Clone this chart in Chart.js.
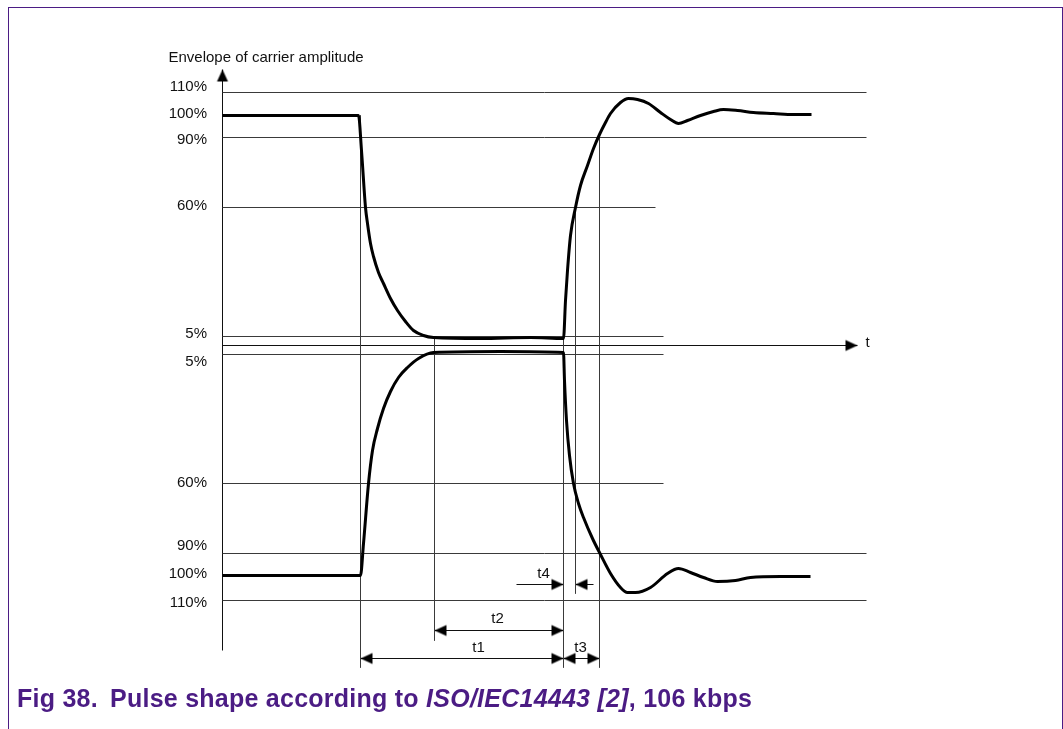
<!DOCTYPE html>
<html>
<head>
<meta charset="utf-8">
<script src="https://cdn.jsdelivr.net/npm/chart.js@4"></script>
<style>
  body { margin: 0; background: #fff; }
  #wrap { position: relative; width: 1063px; height: 729px; overflow: hidden; }
  #frame { position: absolute; left: 8px; top: 7px; width: 1055px; height: 800px; box-sizing: border-box;
           border: 1px solid #4b1c84; border-bottom: none; }
  #chart { position: absolute; left: 0; top: 0; }
  #caption { position: absolute; left: 17px; top: 683px; font: bold 25px Arial, 'Liberation Sans', sans-serif;
             color: #4b1c84; line-height: 30px; white-space: nowrap; letter-spacing: 0.25px; }
  #caption span { display: inline-block; width: 93px; }
</style>
</head>
<body>
<div id="wrap">
  <div id="frame"></div>
  <canvas id="chart" width="1063" height="729"></canvas>
  <div id="caption"><span>Fig 38.</span>Pulse shape according to <i>ISO/IEC14443 [2]</i>, 106 kbps</div>
</div>
<script>
// time in diagram units from the amplitude axis, amplitude in diagram units (0 = time axis)
const upperT = [0, 136, 139, 143, 145, 148, 151, 156, 161, 168, 175, 183, 191, 201, 211, 258, 308, 341,
                343, 345, 348, 353, 358, 365, 371, 377, 383, 388, 398, 406, 415, 426, 438, 448, 456, 465,
                478, 491, 501, 515, 531, 551, 571, 589];
const upperA = [230, 230, 195, 138, 122, 102, 89, 73, 62, 47, 35, 24, 15, 10, 8, 7, 8, 7,
                45, 75, 110, 138, 160, 180, 197, 211, 223, 232, 243, 247, 246, 242, 233, 226, 222, 225,
                230, 234, 236, 235, 233, 232, 231, 231];
const lowerT = [0, 138, 141, 146, 150, 155, 161, 168, 176, 185, 196, 211, 278, 341,
                342, 344, 347, 351, 356, 361, 370, 378, 388, 398, 405, 413, 428, 445, 456, 468,
                481, 495, 513, 528, 558, 588];
const lowerA = [-230, -230, -198, -138, -105, -83, -63, -46, -32, -22, -13, -7, -6, -7,
                -35, -75, -110, -138, -158, -172, -193, -209, -228, -242, -247, -247, -242, -228, -223, -227,
                -232, -236, -235, -232, -231, -231];

// reference levels (horizontal lines) and how far they run
const levelA = [253, 208, 138, 9, -9, -138, -208, -255];
const levelEnd = [644, 644, 433, 441, 441, 441, 644, 644];

// amplitude tick labels
const tickLabels = ['110%', '100%', '90%', '60%', '5%', '5%', '60%', '90%', '100%', '110%'];
const tickA = [259, 232, 206, 140, 12, -16, -137, -200, -228, -257];

// vertical marker lines
const markT = [138, 212, 341, 353, 377];
const markTop = [230, 9, 9, 138, 208];
const markBottom = [-322, -295, -322, -248, -322];

// dimension arrows t1, t2, t3 (double headed)
const dimFrom = [138, 212, 341];
const dimTo = [341, 341, 377];
const dimA = [-313, -285, -313];

// t4 arrows (pointing inwards)
const t4From = [294, 371];
const t4To = [341, 353];
const t4A = -239;

// text notes
const noteText = ['Envelope of carrier amplitude', 't', 't1', 't2', 't3', 't4'];
const noteT = [-54, 643, 256, 275, 358, 321];
const noteA = [288, 3, -302, -273, -302, -228];
const noteAlign = ['left', 'left', 'center', 'center', 'center', 'center'];

function arrowHead() {
    const c = document.createElement('canvas');
    c.width = 28; c.height = 28;
    const g = c.getContext('2d');
    g.fillStyle = '#000';
    g.beginPath();
    g.moveTo(14, 14);
    g.lineTo(2, 8.5);
    g.lineTo(2, 19.5);
    g.closePath();
    g.fill();
    return c;
}
const head = arrowHead();

function seg(xs, ys, extra) {
    return Object.assign({
        data: xs.map((x, i) => ({ x: x, y: ys[i] })),
        borderColor: '#3a3a3a',
        borderWidth: 1,
        pointRadius: 0,
        fill: false,
        clip: false,
        tension: 0
    }, extra || {});
}

const datasets = [];
// envelopes first so they sit on top
datasets.push(seg(upperT, upperA, { borderColor: '#000', borderWidth: 3, cubicInterpolationMode: 'monotone' }));
datasets.push(seg(lowerT, lowerA, { borderColor: '#000', borderWidth: 3, cubicInterpolationMode: 'monotone' }));

levelA.forEach((a, i) => datasets.push(seg([0, levelEnd[i]], [a, a])));
markT.forEach((t, i) => datasets.push(seg([t, t], [markTop[i], markBottom[i]])));

// axes with arrow heads
datasets.push(seg([0, 635], [0, 0], { borderColor: '#111', pointRadius: [0, 5], pointStyle: head, pointRotation: [0, 0] }));
datasets.push(seg([0, 0], [-305, 276], { borderColor: '#111', pointRadius: [0, 5], pointStyle: head, pointRotation: [0, -90] }));

dimFrom.forEach((f, i) => datasets.push(seg([f, dimTo[i]], [dimA[i], dimA[i]],
    { borderColor: '#111', pointRadius: 5, pointStyle: head, pointRotation: [180, 0] })));

datasets.push(seg([t4From[0], t4To[0]], [t4A, t4A], { borderColor: '#111', pointRadius: [0, 5], pointStyle: head, pointRotation: [0, 0] }));
datasets.push(seg([t4From[1], t4To[1]], [t4A, t4A], { borderColor: '#111', pointRadius: [0, 5], pointStyle: head, pointRotation: [0, 180] }));

const notes = {
    id: 'notes',
    afterDraw(chart) {
        const { ctx, scales } = chart;
        ctx.save();
        ctx.font = '15px Arial, "Liberation Sans", sans-serif';
        ctx.fillStyle = '#111';
        ctx.textBaseline = 'middle';
        noteText.forEach((txt, i) => {
            ctx.textAlign = noteAlign[i];
            ctx.fillText(txt, scales.x.getPixelForValue(noteT[i]), scales.y.getPixelForValue(noteA[i]));
        });
        ctx.restore();
    }
};

new Chart(document.getElementById('chart'), {
    type: 'line',
    data: { datasets: datasets },
    plugins: [notes],
    options: {
        responsive: false,
        animation: false,
        events: [],
        layout: { padding: { left: 0, right: 197, top: 50, bottom: 59 } },
        plugins: { legend: { display: false }, tooltip: { enabled: false } },
        scales: {
            x: { type: 'linear', min: -0.5, max: 643.5, display: false },
            y: {
                type: 'linear', min: -324.5, max: 295.5,
                afterFit: s => { s.width = 222; },
                afterBuildTicks: s => { s.ticks = tickA.map(v => ({ value: v })); },
                ticks: {
                    autoSkip: false, padding: 15, color: '#111',
                    font: { family: 'Arial, "Liberation Sans", sans-serif', size: 15 },
                    callback: (v, i) => tickLabels[i]
                },
                grid: { display: false, drawTicks: false },
                border: { display: false }
            }
        }
    }
});
</script>
</body>
</html>
